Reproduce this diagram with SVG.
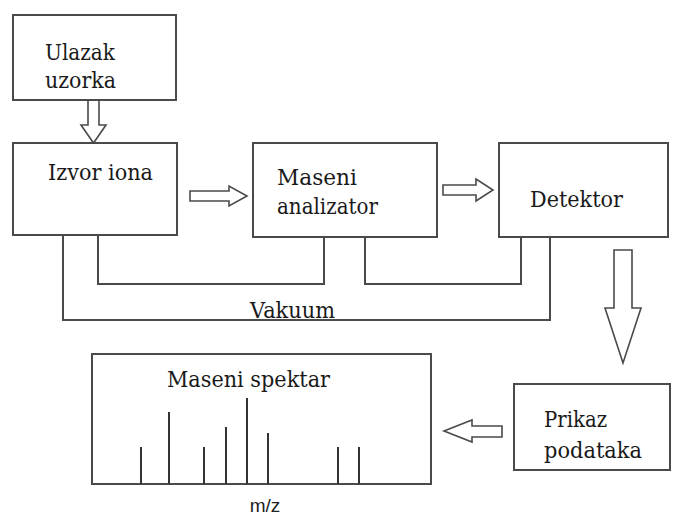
<svg xmlns="http://www.w3.org/2000/svg" width="683" height="515" viewBox="0 0 683 515">
<style>
.box{fill:#fff;stroke:#4a4a4a;stroke-width:2}
.ln{fill:none;stroke:#4a4a4a;stroke-width:2}
.arr{fill:#fff;stroke:#4a4a4a;stroke-width:1.6;stroke-linejoin:miter}
.pk{stroke:#333;stroke-width:2}
.t{font-family:'DejaVu Serif','Liberation Serif',serif;font-size:23px;fill:#1a1a1a}
.s{font-family:'Liberation Sans','DejaVu Sans',sans-serif;font-size:19px;fill:#222}
</style>
<rect width="683" height="515" fill="#fff"/>
<g id="connectors">
<path class="ln" d="M98,236 V284 H324 V237"/>
<path class="ln" d="M365,237 V284 H521 V237"/>
<path class="ln" d="M63,236 V320 H550 V237"/>
<polygon class="arr" points="88,100 99,100 99,125 106,125 93.5,143 81,125 88,125"/>
<polygon class="arr" points="190,191 229,191 229,186 247,196 229,206 229,201 190,201"/>
<polygon class="arr" points="443,185 476,185 476,179 493,190 476,201 476,195 443,195"/>
<polygon class="arr" points="614,250 632,250 632,308 641,308 623,363 605,308 614,308"/>
<polygon class="arr" points="502,426 472,426 472,420 444,431 472,442 472,437 502,437"/>
</g>
<g id="ulazak">
<rect class="box" x="13" y="15" width="163" height="85"/>
<text class="t" x="45" y="60" textLength="70" lengthAdjust="spacingAndGlyphs">Ulazak</text>
<text class="t" x="45" y="88" textLength="71" lengthAdjust="spacingAndGlyphs">uzorka</text>
</g>
<g id="izvor">
<rect class="box" x="13" y="143" width="164" height="92"/>
<text class="t" x="48" y="180" textLength="105" lengthAdjust="spacingAndGlyphs">Izvor iona</text>
</g>
<g id="analizator">
<rect class="box" x="253" y="143" width="184" height="94"/>
<text class="t" x="277" y="185" textLength="80" lengthAdjust="spacingAndGlyphs">Maseni</text>
<text class="t" x="277" y="214" textLength="101" lengthAdjust="spacingAndGlyphs">analizator</text>
</g>
<g id="detektor">
<rect class="box" x="499" y="143" width="169" height="94"/>
<text class="t" x="530" y="207" textLength="93" lengthAdjust="spacingAndGlyphs">Detektor</text>
</g>
<g id="vakuum">
<text class="t" x="250" y="318" textLength="85" lengthAdjust="spacingAndGlyphs">Vakuum</text>
</g>
<g id="prikaz">
<rect class="box" x="514" y="384" width="156" height="86"/>
<text class="t" x="544" y="427" textLength="63" lengthAdjust="spacingAndGlyphs">Prikaz</text>
<text class="t" x="544" y="458" textLength="98" lengthAdjust="spacingAndGlyphs">podataka</text>
</g>
<g id="spektar">
<rect class="box" x="92" y="354" width="339" height="130"/>
<text class="t" x="167" y="387" textLength="163" lengthAdjust="spacingAndGlyphs">Maseni spektar</text>
<line class="pk" x1="141" y1="484" x2="141" y2="447"/>
<line class="pk" x1="169" y1="484" x2="169" y2="412"/>
<line class="pk" x1="204" y1="484" x2="204" y2="447"/>
<line class="pk" x1="226" y1="484" x2="226" y2="427"/>
<line class="pk" x1="247" y1="484" x2="247" y2="398"/>
<line class="pk" x1="268" y1="484" x2="268" y2="433"/>
<line class="pk" x1="338" y1="484" x2="338" y2="447"/>
<line class="pk" x1="359" y1="484" x2="359" y2="447"/>
<text class="s" x="265" y="512" text-anchor="middle">m/z</text>
</g>
</svg>
